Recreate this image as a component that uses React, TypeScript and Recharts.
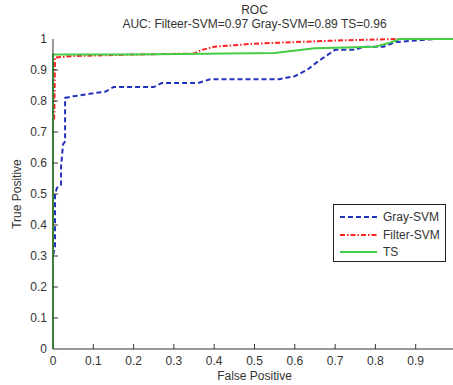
import { LineChart, Line, XAxis, YAxis } from 'recharts';

// ROC points, [false positive, true positive]
const graySvmFpr = [0, 0, 0.005, 0.005, 0.01, 0.02, 0.02, 0.025, 0.03, 0.03, 0.05, 0.1, 0.13, 0.15, 0.25, 0.27, 0.36, 0.39, 0.56, 0.6, 0.63, 0.66, 0.7, 0.75, 0.77, 0.82, 0.85, 0.9, 0.95, 1];
const graySvmTpr = [0.2, 0.3, 0.33, 0.5, 0.52, 0.53, 0.59, 0.66, 0.67, 0.81, 0.815, 0.825, 0.83, 0.845, 0.845, 0.858, 0.858, 0.87, 0.87, 0.88, 0.9, 0.93, 0.965, 0.965, 0.975, 0.975, 0.99, 0.995, 1, 1];

const filterSvmFpr = [0.003, 0.005, 0.05, 0.2, 0.35, 0.37, 0.4, 0.45, 0.5, 0.6, 0.7, 0.85, 1];
const filterSvmTpr = [0.74, 0.94, 0.945, 0.95, 0.953, 0.965, 0.975, 0.98, 0.985, 0.99, 0.995, 1, 1];

const tsFpr = [0, 0, 0.2, 0.55, 0.58, 0.65, 0.8, 0.84, 0.86, 1];
const tsTpr = [0, 0.95, 0.95, 0.955, 0.96, 0.97, 0.975, 0.99, 1, 1];

const xTicks = [0, 0.1, 0.2, 0.3, 0.4, 0.5, 0.6, 0.7, 0.8, 0.9];
const yTicks = [0, 0.1, 0.2, 0.3, 0.4, 0.5, 0.6, 0.7, 0.8, 0.9, 1];

const TITLE = 'ROC';
const SUBTITLE = 'AUC: Filteer-SVM=0.97 Gray-SVM=0.89 TS=0.96';

const BLUE = '#2233b8';
const RED = '#ff2020';
const GREEN = '#44cc44';
const INK = '#333';
const FONT = '"Liberation Sans", Arial, sans-serif';

const toPoints = (fpr: number[], tpr: number[]) => fpr.map((fp, i) => ({ fp, tp: tpr[i] }));

const series = [
  { name: 'Gray-SVM', data: toPoints(graySvmFpr, graySvmTpr), color: BLUE, dash: '5 3' },
  { name: 'Filter-SVM', data: toPoints(filterSvmFpr, filterSvmTpr), color: RED, dash: '5 2 1.5 2' },
  { name: 'TS', data: toPoints(tsFpr, tsTpr), color: GREEN, dash: undefined },
];

const fmt = (v: number) => (v === 0 || v === 1 ? String(v) : String(v).replace(/^0/, '0'));

function BottomTick({ x, y, payload }: any) {
  return (
    <g>
      {payload.value !== 0 && <line x1={x} y1={y} x2={x} y2={y - 5} stroke={INK} />}
      <text x={x} y={y + 16} textAnchor="middle" fill={INK} fontSize={12} fontFamily={FONT}>
        {fmt(payload.value)}
      </text>
    </g>
  );
}

function LeftTick({ x, y, payload }: any) {
  return (
    <g>
      {payload.value !== 0 && payload.value !== 1 && <line x1={x} y1={y} x2={x + 5} y2={y} stroke={INK} />}
      <text x={x - 6} y={y + 4} textAnchor="end" fill={INK} fontSize={12} fontFamily={FONT}>
        {fmt(payload.value)}
      </text>
    </g>
  );
}

function TopTick({ x, y, payload }: any) {
  if (payload.value === 0) return null;
  return <line x1={x} y1={y} x2={x} y2={y + 5} stroke={INK} />;
}

function RightTick({ x, y, payload }: any) {
  if (payload.value === 0 || payload.value === 1) return null;
  return <line x1={x} y1={y} x2={x - 5} y2={y} stroke={INK} />;
}

function LegendBox() {
  return (
    <div
      style={{
        position: 'absolute',
        left: 333,
        top: 204,
        width: 111,
        height: 56,
        border: '1px solid #222',
        background: 'white',
        fontFamily: FONT,
        fontSize: 12,
        color: INK,
      }}
    >
      {series.map((s, i) => (
        <div key={s.name} style={{ position: 'absolute', left: 6, top: 5 + i * 17.5, height: 14, display: 'flex', alignItems: 'center' }}>
          <svg width={38} height={6} style={{ marginRight: 5 }}>
            <line x1={0} y1={3} x2={37} y2={3} stroke={s.color} strokeWidth={2} strokeDasharray={s.dash} />
          </svg>
          <span>{s.name}</span>
        </div>
      ))}
    </div>
  );
}

export default function App() {
  return (
    <div style={{ position: 'absolute', left: 0, top: 0, width: 453, height: 385, overflow: 'hidden', background: 'white' }}>
      <div style={{ position: 'absolute', left: 0, width: 509, textAlign: 'center', top: 3, fontFamily: FONT, fontSize: 12, color: INK, lineHeight: '14px' }}>
        <div>{TITLE}</div>
        <div>{SUBTITLE}</div>
      </div>
      <LineChart width={457} height={385} margin={{ top: 39, right: 1, bottom: 0, left: 0 }}>
        <XAxis
          xAxisId="bottom"
          type="number"
          dataKey="fp"
          domain={[0, 1]}
          ticks={xTicks}
          height={36}
          tickSize={0}
          tickMargin={0}
          tick={<BottomTick />}
          stroke={INK}
          allowDuplicatedCategory={false}
        />
        <XAxis
          xAxisId="top"
          orientation="top"
          type="number"
          dataKey="fp"
          domain={[0, 1]}
          ticks={xTicks}
          height={0}
          tickSize={0}
          tickMargin={0}
          tick={<TopTick />}
          stroke={INK}
        />
        <YAxis
          yAxisId="left"
          type="number"
          domain={[0, 1]}
          ticks={yTicks}
          width={53}
          tickSize={0}
          tickMargin={0}
          tick={<LeftTick />}
          stroke={INK}
        />
        <YAxis
          yAxisId="right"
          orientation="right"
          type="number"
          domain={[0, 1]}
          ticks={yTicks}
          width={0}
          tickSize={0}
          tickMargin={0}
          tick={<RightTick />}
          axisLine={false}
        />
        {series.map((s) => (
          <Line
            key={s.name}
            xAxisId="bottom"
            yAxisId="left"
            data={s.data}
            dataKey="tp"
            type="linear"
            stroke={s.color}
            strokeWidth={2}
            strokeDasharray={s.dash}
            dot={false}
            activeDot={false}
            isAnimationActive={false}
          />
        ))}
      </LineChart>
      <div style={{ position: 'absolute', left: 0, width: 509, textAlign: 'center', top: 369, fontFamily: FONT, fontSize: 12, color: INK }}>
        False Positive
      </div>
      <div
        style={{
          position: 'absolute',
          left: 17,
          top: 194,
          transform: 'translate(-50%, -50%) rotate(-90deg)',
          whiteSpace: 'nowrap',
          fontFamily: FONT,
          fontSize: 12,
          color: INK,
        }}
      >
        True Positive
      </div>
      <LegendBox />
    </div>
  );
}
